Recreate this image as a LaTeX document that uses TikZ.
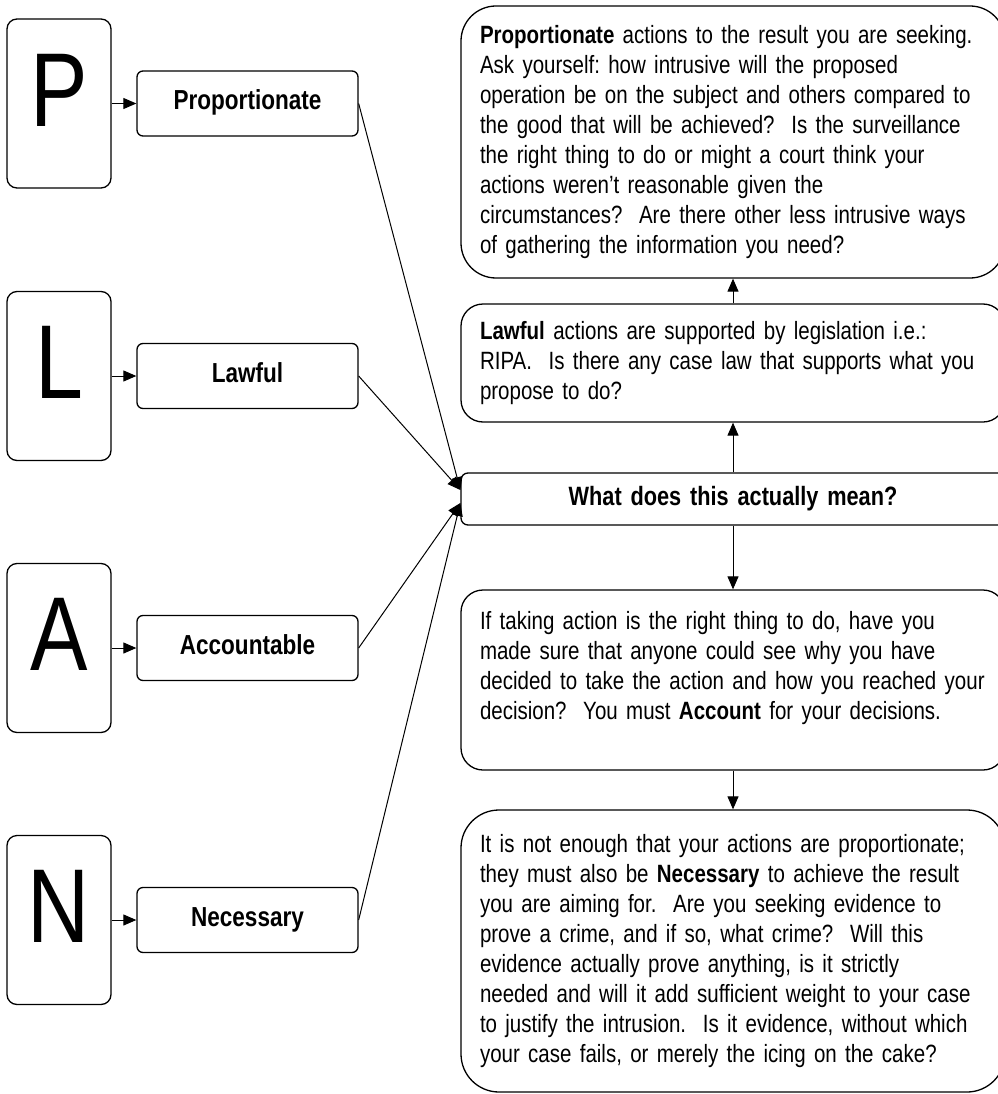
\documentclass[tikz,border=0pt]{standalone}
\usepackage{fontspec}
\setmainfont{Liberation Sans}[FakeStretch=0.82]
\usetikzlibrary{arrows.meta}

\newcommand{\bodytext}{\fontsize{25}{30}\selectfont\frenchspacing}
\newcommand{\labeltext}{\fontsize{27.5}{32}\selectfont\bfseries}
\newcommand{\whattext}{\fontsize{26.5}{32}\selectfont\bfseries}
\newcommand{\bigletter}{\fontsize{105}{112}\selectfont}

\tikzset{
  letterbox/.style={draw, line width=1.3pt, rounded corners=10pt, minimum width=104pt, minimum height=169pt, inner sep=0pt, font=\bigletter, text depth=27pt},
  labelbox/.style={draw, line width=1.3pt, rounded corners=6pt, minimum width=221pt, minimum height=65pt, inner sep=0pt, font=\labeltext, text height=20pt, text depth=8pt},
  infobox/.style={draw, line width=1.3pt, rounded corners=22pt, text width=506pt, inner xsep=19pt, inner ysep=0pt, align=left, font=\bodytext},
  link/.style={-{Triangle[length=13pt,width=11pt]}, line width=1pt},
}

\begin{document}
\begin{tikzpicture}[x=1pt,y=-1pt]
    \useasboundingbox (0,0) rectangle (997,1094);
    % the four letters and their words
    \foreach \ltr/\word/\y/\nm in {P/Proportionate/103.5/prop, L/Lawful/376/law, A/Accountable/648/acc, N/Necessary/920/nec}{
        \node[letterbox] (\nm L) at (59,\y) {\ltr};
        \node[labelbox] (\nm) at (247.5,\y) {\word};
        \draw[link] (\nm L) -- (\nm);
    }
    % right column
    \node[infobox, rounded corners=35pt, minimum height=272pt] (propinfo) at (733,142) {\textbf{Proportionate} actions to the result you are seeking.\\
        Ask yourself: how intrusive will the proposed\\
        operation be on the subject and others compared to\\
        the good that will be achieved?~ Is the surveillance\\
        the right thing to do or might a court think your\\
        actions weren’t reasonable given the\\
        circumstances?~ Are there other less intrusive ways\\
        of gathering the information you need?};
    \node[infobox, minimum height=118pt] (lawinfo) at (733,363) {\textbf{Lawful} actions are supported by legislation i.e.:\\
        RIPA.~ Is there any case law that supports what you\\
        propose to do?};
    \node[infobox, rounded corners=7pt, minimum height=52pt, align=center, font=\whattext] (whatbox) at (733,499) {What does this actually mean?};
    \node[infobox, minimum height=180pt] (accinfo) at (733,680) {If taking action is the right thing to do, have you\\
        made sure that anyone could see why you have\\
        decided to take the action and how you reached your\\
        decision?~ You must \textbf{Account} for your decisions.\\
        ~};
    \node[infobox, rounded corners=38pt, minimum height=282pt] (necinfo) at (733,951) {It is not enough that your actions are proportionate;\\
        they must also be \textbf{Necessary} to achieve the result\\
        you are aiming for.~ Are you seeking evidence to\\
        prove a crime, and if so, what crime?~ Will this\\
        evidence actually prove anything, is it strictly\\
        needed and will it add sufficient weight to your case\\
        to justify the intrusion.~ Is it evidence, without which\\
        your case fails, or merely the icing on the cake?};

    \draw[link] (whatbox.north) -- (lawinfo.south);
    \draw[link] (lawinfo.north) -- (propinfo.south);
    \draw[link] (whatbox.south) -- (accinfo.north);
    \draw[link] (accinfo.south) -- (necinfo.north);

    \draw[link] (prop.east) -- ([yshift=9pt]whatbox.west);
    \draw[link] (law.east) -- ([yshift=9pt]whatbox.west);
    \draw[link] (acc.east) -- ([yshift=-4pt]whatbox.west);
    \draw[link] (nec.east) -- ([yshift=-4pt]whatbox.west);
  \end{tikzpicture}
\end{document}
